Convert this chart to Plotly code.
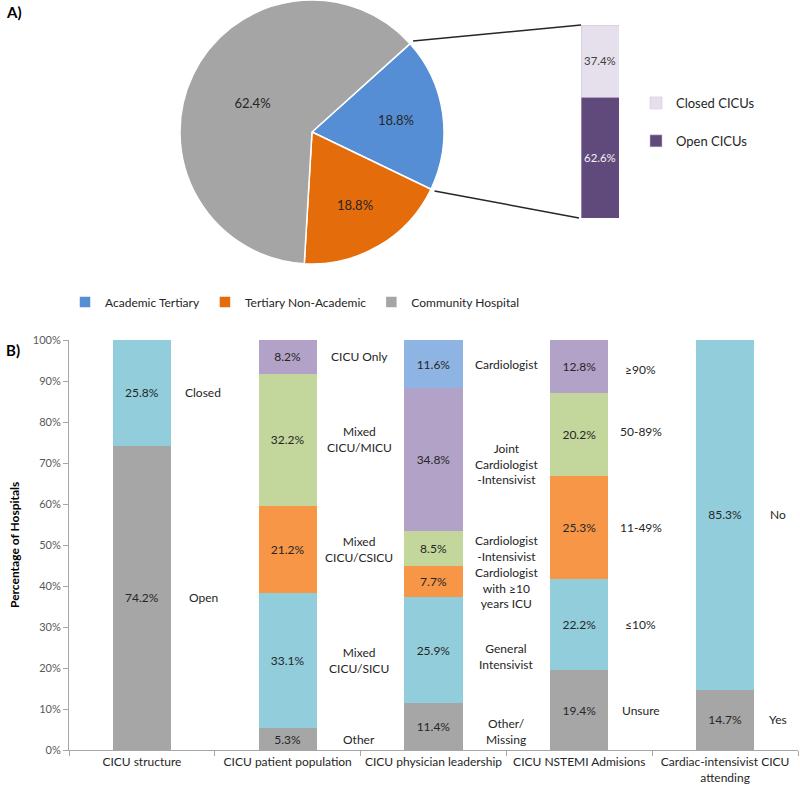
import math
import plotly.graph_objects as go

W, H = 800, 785

# ---------------- data ----------------
pie_labels = ["Academic Tertiary", "Tertiary Non-Academic", "Community Hospital"]
pie_values = [18.8, 18.8, 62.4]
pie_colors = ["#558ED5", "#E46C0A", "#A5A5A5"]

sub_labels = ["Open CICUs", "Closed CICUs"]
sub_values = [62.6, 37.4]
sub_colors = ["#604A7B", "#E6E0EC"]
sub_text_colors = ["#F2F2F2", "#404040"]
sub_legend_rank = [2, 1]

categories = ["CICU structure", "CICU patient population", "CICU physician leadership",
              "CICU NSTEMI Admisions", "Cardiac-intensivist CICU<br>attending"]

gray_vals = [74.2, 5.3, 11.4, 19.4, 14.7]
aqua_vals = [25.8, 33.1, 25.9, 22.2, 85.3]
orange_vals = [None, 21.2, 7.7, 25.3, None]
green_vals = [None, 32.2, 8.5, 20.2, None]
purple_vals = [None, 8.2, 34.8, 12.8, None]
blue_vals = [None, None, 11.6, None, None]

gray_names = ["Open", "Other", "Other/<br>Missing", "Unsure", "Yes"]
aqua_names = ["Closed", "Mixed<br>CICU/SICU", "General<br>Intensivist", "≤10%", "No"]
orange_names = [None, "Mixed<br>CICU/CSICU", "Cardiologist<br>with ≥10<br>years ICU", "11-49%", None]
green_names = [None, "Mixed<br>CICU/MICU", "Cardiologist<br>-Intensivist", "50-89%", None]
purple_names = [None, "CICU Only", "Joint<br>Cardiologist<br>-Intensivist", "≥90%", None]
blue_names = [None, None, "Cardiologist", None, None]

# ---------------- styling ----------------
FONT = "Lato, Carlito, Calibri, sans-serif"
levels = [
    (gray_vals, gray_names, "#A6A6A6"),
    (aqua_vals, aqua_names, "#92CDDC"),
    (orange_vals, orange_names, "#F79646"),
    (green_vals, green_names, "#C3D69B"),
    (purple_vals, purple_names, "#B3A2C7"),
    (blue_vals, blue_names, "#8EB4E3"),
]
label_offsets = [0.42, 0.49, 0.5, 0.42, 0.36]
# small pixel nudges for a few side labels (negative = down)
label_yshift = {
    "Cardiologist<br>with ≥10<br>years ICU": -7,
    "Joint<br>Cardiologist<br>-Intensivist": -5,
    "General<br>Intensivist": -6,
    "Other/<br>Missing": -5,
    "50-89%": 3,
    "≥90%": -3,
}


def px(x):
    return x / W


def py(y):
    return min(1.0, max(0.0, 1 - y / H))


fig = go.Figure()

# ---- pie ----
pie_cx, pie_cy, pie_r = 312, 132, 132
rotation = 48
fig.add_trace(go.Pie(
    labels=pie_labels, values=pie_values, sort=False, direction="clockwise",
    rotation=rotation,
    marker=dict(colors=pie_colors, line=dict(color="white", width=1.5)),
    texttemplate="%{percent:.1%}", textposition="inside",
    insidetextorientation="horizontal",
    textfont=dict(size=13, color="#262626", family=FONT),
    domain=dict(x=[px(pie_cx - pie_r), px(pie_cx + pie_r)],
                y=[py(pie_cy + pie_r), py(pie_cy - pie_r)]),
    legend="legend", hoverinfo="label+percent",
))

# ---- small stacked bar (breakdown of academic tertiary) ----
sb_left, sb_right, sb_top, sb_bottom = 581, 619, 25, 218
for lab, val, col, tcol, grp, rank in zip(sub_labels, sub_values, sub_colors, sub_text_colors,
                                          ["g1", "g2"], sub_legend_rank):
    fig.add_trace(go.Bar(
        x=[0], y=[val], width=1, name=lab,
        marker=dict(color=col, line=dict(color="#CCC0DA", width=0.5)),
        texttemplate="%{y:.1f}%", textposition="inside", insidetextanchor="middle",
        textangle=0,
        textfont=dict(size=12, color=tcol, family=FONT),
        xaxis="x2", yaxis="y2", legend="legend2", legendgroup=grp, legendrank=rank,
    ))

# connector lines from pie slice edges to the small bar
start = rotation
end = rotation + 360 * pie_values[0] / sum(pie_values)
rr = pie_r * 1.03
p1 = (pie_cx + rr * math.sin(math.radians(start)), pie_cy - rr * math.cos(math.radians(start)))
p2 = (pie_cx + rr * math.sin(math.radians(end)), pie_cy - rr * math.cos(math.radians(end)))
shapes = [
    dict(type="line", xref="paper", yref="paper", x0=px(p1[0]), y0=py(p1[1]),
         x1=px(sb_left), y1=py(sb_top), line=dict(color="#262626", width=1.5)),
    dict(type="line", xref="paper", yref="paper", x0=px(p2[0]), y0=py(p2[1]),
         x1=px(sb_left - 2), y1=py(sb_bottom), line=dict(color="#262626", width=1.5)),
]

# ---- main stacked bars ----
xs = list(range(len(categories)))
for vals, names, col in levels:
    fig.add_trace(go.Bar(
        x=xs, y=vals, width=0.4, marker=dict(color=col, line=dict(width=0)),
        texttemplate="%{y:.1f}%", textposition="inside", insidetextanchor="middle",
        textangle=0,
        textfont=dict(size=12, color="#262626", family=FONT),
        showlegend=False, xaxis="x", yaxis="y", cliponaxis=False,
        hovertemplate="%{y:.1f}%<extra></extra>",
    ))

annotations = []
cum = [0.0] * len(categories)
for vals, names, col in levels:
    for i, (v, n) in enumerate(zip(vals, names)):
        if v is None:
            continue
        mid = cum[i] + v / 2
        cum[i] += v
        if n:
            annotations.append(dict(
                x=xs[i] + label_offsets[i], y=mid, xref="x", yref="y", text=n,
                showarrow=False, xanchor="center", yanchor="middle",
                yshift=label_yshift.get(n, 0),
                font=dict(size=12, color="#262626", family=FONT)))

annotations += [
    dict(x=px(4), y=py(12), xref="paper", yref="paper", text="<b>A)</b>", showarrow=False,
         xanchor="left", yanchor="middle", font=dict(size=15, color="#000000", family=FONT)),
    dict(x=px(4), y=py(350), xref="paper", yref="paper", text="<b>B)</b>", showarrow=False,
         xanchor="left", yanchor="middle", font=dict(size=15, color="#000000", family=FONT)),
    dict(x=px(14), y=py(545), xref="paper", yref="paper", text="<b>Percentage of Hospitals</b>",
         showarrow=False, textangle=-90, xanchor="center", yanchor="middle",
         font=dict(size=12, color="#000000", family=FONT)),
]

fig.update_layout(
    width=W, height=H, margin=dict(l=0, r=0, t=0, b=0),
    paper_bgcolor="white", plot_bgcolor="white",
    barmode="stack", font=dict(family=FONT, color="#404040"),
    shapes=shapes, annotations=annotations,
    xaxis=dict(domain=[px(69), px(798)], range=[-0.5, len(categories) - 0.5],
               tickmode="array", tickvals=xs, ticktext=categories, ticks="",
               tickfont=dict(size=12, color="#262626", family=FONT),
               showline=True, linecolor="#A6A6A6", linewidth=1, showgrid=False,
               zeroline=False, automargin=False, fixedrange=True, ticklabelstandoff=1,
               minor=dict(tickmode="array", tickvals=[x + 0.5 for x in [-1] + xs],
                          ticks="outside", ticklen=5, tickcolor="#A6A6A6", showgrid=False)),
    yaxis=dict(domain=[py(750), py(340)], range=[0, 100], dtick=10, ticksuffix="%",
               ticks="outside", ticklen=5, tickcolor="#A6A6A6",
               tickfont=dict(size=11, color="#595959", family=FONT),
               showline=True, linecolor="#A6A6A6", linewidth=1, showgrid=False,
               zeroline=False, automargin=False, fixedrange=True),
    xaxis2=dict(domain=[px(sb_left), px(sb_right)], range=[-0.5, 0.5], anchor="y2",
                visible=False, fixedrange=True),
    yaxis2=dict(domain=[py(sb_bottom), py(sb_top)], range=[0, 100], anchor="x2",
                visible=False, fixedrange=True),
    legend=dict(orientation="h", x=px(295), xanchor="center", y=py(302), yanchor="middle",
                traceorder="normal",
                font=dict(size=12, color="#262626", family=FONT), bgcolor="rgba(0,0,0,0)"),
    legend2=dict(orientation="v", x=px(636), xanchor="left", y=py(88), yanchor="top",
                 traceorder="grouped", tracegroupgap=18,
                 font=dict(size=13, color="#262626", family=FONT), bgcolor="rgba(0,0,0,0)"),
)

fig.write_html("out.html", config={"displayModeBar": False},
               post_script="document.body.style.margin='0px';document.body.style.overflow='hidden';")
